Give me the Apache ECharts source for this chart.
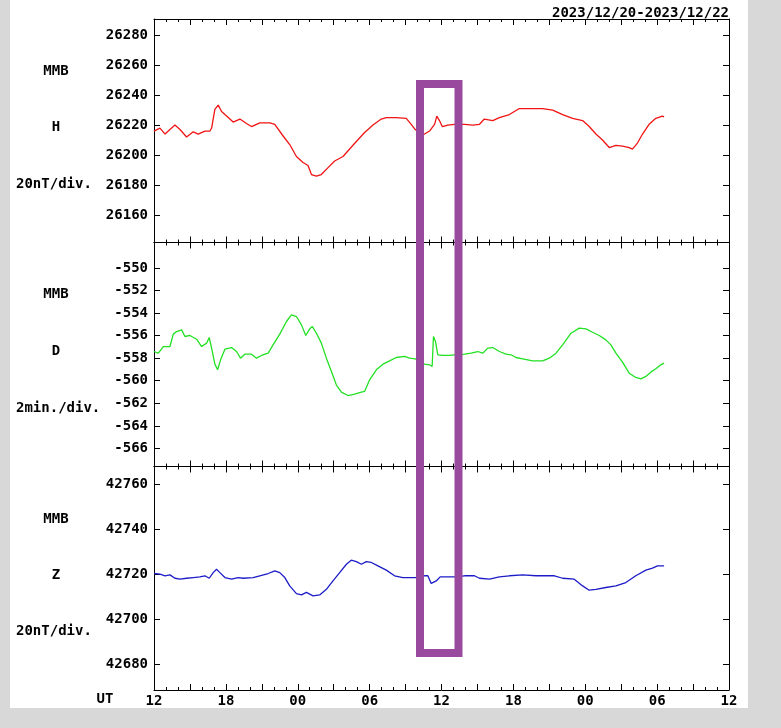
<!DOCTYPE html>
<html>
<head>
<meta charset="utf-8">
<script src="https://cdn.jsdelivr.net/npm/echarts@6/dist/echarts.min.js"></script>
<style>
  html, body { margin: 0; padding: 0; background: #d8d8d8; }
  #main { width: 781px; height: 728px; }
</style>
</head>
<body>
<div id="main"></div>
<script>
// hours after 2023/12/20 12UT
var hHours = [0.0, 0.5, 0.92, 1.33, 1.75, 2.17, 2.72, 3.28, 3.69, 4.25, 4.67, 4.81, 5.08, 5.36, 5.64, 6.06, 6.61, 7.17, 7.72, 8.14, 8.83, 9.67, 10.08, 10.78, 11.33, 11.89, 12.44, 12.86, 13.14, 13.56, 13.97, 14.53, 15.08, 15.78, 16.33, 16.89, 17.58, 18.28, 18.97, 19.39, 20.22, 21.06, 21.47, 21.81, 22.2, 22.58, 23.0, 23.42, 23.61, 23.83, 24.06, 24.53, 25.08, 25.92, 26.61, 27.17, 27.58, 28.28, 28.83, 29.67, 30.5, 31.33, 32.44, 33.28, 34.11, 34.94, 35.78, 36.33, 36.89, 37.44, 38.0, 38.56, 39.11, 39.67, 39.94, 40.36, 40.78, 41.33, 41.89, 42.44, 42.58];
var hValues = [26216, 26218, 26214, 26217, 26220, 26217, 26212, 26215.5, 26214, 26216, 26216, 26218, 26230.5, 26233.3, 26229, 26226, 26222, 26224, 26221, 26219, 26221.5, 26221.5, 26220.5, 26212.7, 26207, 26199, 26195, 26193, 26187, 26186, 26187, 26191.6, 26196, 26199, 26204, 26209, 26215, 26220, 26224, 26225, 26225, 26224.5, 26220.5, 26217, 26214.5, 26214, 26216, 26220.5, 26226, 26223, 26219, 26220, 26220.5, 26220.5, 26220, 26220.5, 26224, 26223, 26225, 26227, 26231, 26231, 26231, 26230, 26227, 26224.5, 26223, 26219, 26214, 26210, 26205, 26206.5, 26206, 26205, 26204, 26208, 26214, 26220.5, 26224.5, 26226, 26225.5];

var dHours = [0.0, 0.36, 0.78, 1.33, 1.61, 1.89, 2.31, 2.58, 3.0, 3.56, 3.97, 4.39, 4.61, 4.81, 5.08, 5.31, 5.56, 5.92, 6.47, 6.89, 7.22, 7.58, 8.14, 8.56, 8.97, 9.53, 9.94, 10.5, 11.06, 11.47, 11.89, 12.31, 12.67, 13.0, 13.22, 13.56, 13.97, 14.39, 14.81, 15.22, 15.64, 16.19, 16.75, 17.31, 17.58, 18.0, 18.56, 19.11, 19.67, 20.22, 20.92, 21.33, 21.81, 22.58, 23.0, 23.22, 23.33, 23.5, 23.69, 24.11, 24.67, 25.08, 25.92, 26.47, 27.03, 27.44, 27.86, 28.28, 28.83, 29.39, 29.81, 30.22, 30.78, 31.61, 32.44, 33.0, 33.56, 34.11, 34.81, 35.5, 36.06, 36.61, 37.17, 37.72, 38.14, 38.56, 39.11, 39.67, 40.22, 40.64, 41.06, 41.47, 41.89, 42.31, 42.58];
var dValues = [-557.41, -557.56, -556.97, -556.97, -555.87, -555.64, -555.49, -556.08, -555.99, -556.32, -556.97, -556.67, -556.17, -557.11, -558.53, -559.03, -558.15, -557.2, -557.06, -557.41, -558.0, -557.65, -557.65, -558.0, -557.76, -557.56, -556.82, -555.87, -554.75, -554.16, -554.31, -555.05, -555.99, -555.4, -555.2, -555.79, -556.67, -558.0, -559.18, -560.36, -561.01, -561.31, -561.19, -561.01, -560.95, -559.92, -559.03, -558.53, -558.24, -557.94, -557.85, -558.0, -558.06, -558.53, -558.59, -558.74, -556.08, -556.52, -557.7, -557.76, -557.76, -557.7, -557.65, -557.56, -557.41, -557.56, -557.11, -557.06, -557.41, -557.65, -557.7, -557.94, -558.06, -558.24, -558.24, -558.0, -557.56, -556.82, -555.79, -555.34, -555.4, -555.7, -555.99, -556.38, -556.82, -557.56, -558.35, -559.33, -559.71, -559.83, -559.62, -559.24, -558.94, -558.59, -558.44];

var zHours = [0.0, 0.5, 0.92, 1.33, 1.75, 2.17, 2.72, 3.28, 3.83, 4.25, 4.61, 4.94, 5.22, 5.5, 5.92, 6.47, 7.03, 7.44, 8.28, 8.83, 9.53, 10.08, 10.5, 10.92, 11.33, 11.89, 12.31, 12.72, 13.28, 13.83, 14.39, 14.94, 15.5, 16.06, 16.47, 16.89, 17.31, 17.72, 18.14, 18.69, 19.39, 20.08, 20.78, 21.81, 22.58, 22.86, 23.14, 23.28, 23.56, 23.89, 24.39, 25.08, 25.92, 26.75, 27.17, 28.0, 28.83, 29.67, 30.78, 31.89, 33.42, 34.11, 35.08, 35.78, 36.33, 36.89, 37.72, 38.56, 39.39, 40.22, 41.06, 41.61, 42.03, 42.58];
var zValues = [42720.3, 42720, 42719.3, 42719.7, 42718.2, 42717.8, 42718.2, 42718.5, 42718.8, 42719.3, 42718.2, 42720.7, 42722.2, 42720.7, 42718.5, 42717.8, 42718.5, 42718.2, 42718.5, 42719.3, 42720.3, 42721.5, 42720.7, 42718.5, 42714.8, 42711.4, 42710.8, 42711.9, 42710.4, 42710.8, 42713.3, 42717.0, 42720.7, 42724.4, 42726.2, 42725.6, 42724.4, 42725.6, 42725.2, 42723.7, 42721.8, 42719.3, 42718.5, 42718.5, 42719.3, 42719.3, 42715.9, 42715.3, 42717.0, 42718.8, 42718.8, 42718.8, 42719.3, 42719.3, 42718.2, 42717.8, 42718.8, 42719.3, 42719.7, 42719.3, 42719.3, 42718.2, 42717.8, 42714.8, 42712.9, 42713.3, 42714.1, 42714.8, 42716.3, 42719.3, 42721.8, 42722.7, 42723.7, 42723.7];

var hTicks = [26160, 26180, 26200, 26220, 26240, 26260, 26280];
var dTicks = [-566, -564, -562, -560, -558, -556, -554, -552, -550];
var zTicks = [42680, 42700, 42720, 42740, 42760];

var myChart = echarts.init(document.getElementById('main'));

var font = 'DejaVu Sans Mono';
var black = '#000';

function pairs(xs, ys) {
  return xs.map(function (x, i) { return [x, ys[i]]; });
}

var panels = [
  { top: 19, height: 223.5, min: 26141.7, max: 26290.7, ticks: hTicks, color: '#f01414', data: pairs(hHours, hValues) },
  { top: 242.5, height: 224, min: -567.6, max: -547.75, ticks: dTicks, color: '#22e022', data: pairs(dHours, dValues) },
  { top: 466.5, height: 223.5, min: 42668.6, max: 42767.8, ticks: zTicks, color: '#1c1cc8', data: pairs(zHours, zValues) }
];

var grids = [], xAxes = [], yAxes = [], series = [];

panels.forEach(function (p, i) {
  grids.push({ left: 154, width: 575, top: p.top, height: p.height });
  ['bottom', 'top'].forEach(function (pos) {
    xAxes.push({
      type: 'value', gridIndex: i, position: pos,
      min: 0, max: 48, interval: 3,
      axisLine: { onZero: false, lineStyle: { color: black, width: 1 } },
      axisTick: { inside: true, length: 6, lineStyle: { color: black } },
      minorTick: { show: true, splitNumber: 3, length: 3, lineStyle: { color: black } },
      splitLine: { show: false },
      axisLabel: {
        show: pos === 'bottom' && i === 2,
        showMinLabel: true, showMaxLabel: true,
        margin: 4,
        color: black, fontFamily: font, fontWeight: 'bold', fontSize: 14,
        formatter: function (v) {
          if (v % 6 !== 0) return '';
          var h = (12 + v) % 24;
          return (h < 10 ? '0' : '') + h;
        }
      }
    });
  });
  ['left', 'right'].forEach(function (pos) {
    yAxes.push({
      type: 'value', gridIndex: i, position: pos,
      min: p.min, max: p.max,
      axisLine: { show: true, onZero: false, lineStyle: { color: black, width: 1 } },
      axisTick: { show: true, inside: true, length: 6, customValues: p.ticks, lineStyle: { color: black } },
      splitLine: { show: false },
      axisLabel: {
        show: pos === 'left',
        customValues: p.ticks,
        margin: 6,
        color: black, fontFamily: font, fontWeight: 'bold', fontSize: 14,
        formatter: function (v) { return String(v); }
      }
    });
  });
  series.push({
    type: 'line',
    xAxisIndex: i * 2,
    yAxisIndex: i * 2,
    data: p.data,
    showSymbol: false,
    symbol: 'none',
    lineStyle: { color: p.color, width: 1.3 },
    animation: false
  });
});

function label(text, x, y, align) {
  return {
    type: 'text', x: x, y: y, z: 10,
    style: {
      text: text, fill: black, font: 'bold 14px "DejaVu Sans Mono"',
      textAlign: align || 'center', textVerticalAlign: 'middle'
    }
  };
}

var option = {
  backgroundColor: '#d8d8d8',
  animation: false,
  grid: grids,
  xAxis: xAxes,
  yAxis: yAxes,
  series: series,
  graphic: [
    { type: 'rect', z: -10, shape: { x: 10, y: 0, width: 738, height: 708 }, style: { fill: '#fff' } },
    label('2023/12/20-2023/12/22', 729, 13, 'right'),
    label('MMB', 56, 71), label('H', 56, 127.5), label('20nT/div.', 16, 184, 'left'),
    label('MMB', 56, 294), label('D', 56, 351.5), label('2min./div.', 16, 408, 'left'),
    label('MMB', 56, 519), label('Z', 56, 575), label('20nT/div.', 16, 631, 'left'),
    label('UT', 105, 699),
    {
      type: 'rect', z: 100,
      shape: { x: 420, y: 84, width: 38.5, height: 569 },
      style: { fill: 'none', stroke: '#9a4a9e', lineWidth: 8 }
    }
  ]
};

myChart.setOption(option);
</script>
</body>
</html>
